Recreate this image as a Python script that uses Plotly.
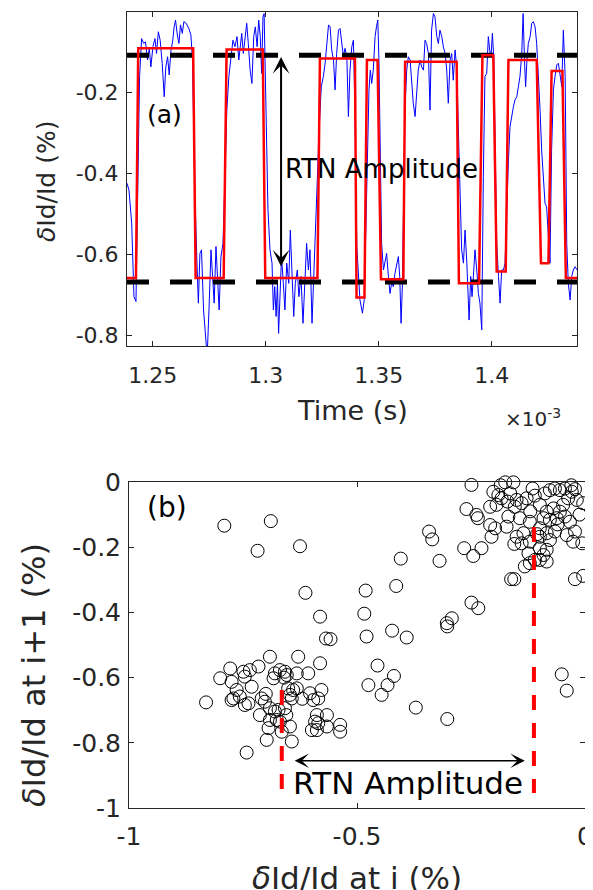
import plotly.graph_objects as go

# ---------------- panel (a): time trace ----------------
t_seg1 = [1.2386,1.2395,1.2407,1.2417,1.2426,1.2433,1.2442,1.2451,1.2460,1.2468,1.2477,1.2485,1.2492,1.2501,1.2510,1.2517,1.2525,1.2533,1.2542,1.2551,1.2558,1.2566,1.2573,1.2581,1.2588,1.2595,1.2601,1.2609,1.2616,1.2623,1.2631,1.2638,1.2648,1.2660,1.2669,1.2676,1.2687,1.2696,1.2702,1.2709,1.2716,1.2725,1.2734,1.2741,1.2749,1.2758,1.2765,1.2772,1.2780,1.2787,1.2794,1.2802,1.2811,1.2820,1.2828,1.2837,1.2846,1.2855,1.2864,1.2873,1.2881]
y_seg1 = [-0.424,-0.441,-0.523,-0.705,-0.717,-0.490,-0.160,-0.066,-0.078,-0.074,-0.119,-0.090,-0.136,-0.086,-0.066,-0.103,-0.049,-0.070,-0.127,-0.210,-0.136,-0.111,-0.156,-0.094,-0.074,-0.037,-0.020,-0.057,-0.078,-0.032,-0.053,-0.024,-0.028,-0.041,-0.057,-0.119,-0.457,-0.622,-0.721,-0.598,-0.589,-0.738,-0.796,-0.853,-0.738,-0.589,-0.655,-0.721,-0.581,-0.647,-0.738,-0.606,-0.573,-0.408,-0.243,-0.160,-0.119,-0.070,-0.086,-0.061,-0.119]
t_seg2 = [1.2894,1.2901,1.2908,1.2916,1.2923,1.2931,1.2939,1.2947,1.2954,1.2962,1.2969,1.2976,1.2982,1.2988,1.2993,1.3001,1.3010,1.3019,1.3028,1.3034,1.3040,1.3046,1.3052,1.3057,1.3063,1.3070,1.3078,1.3085,1.3093,1.3102,1.3109,1.3116,1.3124,1.3131,1.3140,1.3147,1.3156,1.3165,1.3174,1.3181,1.3189,1.3196,1.3205,1.3212,1.3220,1.3229,1.3237,1.3246,1.3255,1.3263,1.3270,1.3278,1.3285,1.3292,1.3300,1.3307,1.3314,1.3322,1.3329,1.3337,1.3344,1.3351,1.3359,1.3366,1.3373,1.3381,1.3388,1.3395]
y_seg2 = [-0.053,-0.103,-0.070,-0.028,-0.078,-0.144,-0.177,-0.061,-0.037,-0.086,-0.020,-0.061,-0.152,-0.012,-0.004,-0.243,-0.490,-0.589,-0.622,-0.738,-0.680,-0.754,-0.672,-0.796,-0.705,-0.606,-0.672,-0.738,-0.622,-0.672,-0.540,-0.655,-0.754,-0.672,-0.639,-0.705,-0.655,-0.771,-0.672,-0.573,-0.639,-0.589,-0.771,-0.655,-0.532,-0.408,-0.284,-0.185,-0.160,-0.127,-0.078,-0.032,-0.037,-0.094,-0.119,-0.193,-0.103,-0.045,-0.041,-0.086,-0.111,-0.090,-0.111,-0.259,-0.144,-0.086,-0.070,-0.243]
t_seg3 = [1.3403,1.3417,1.3428,1.3436,1.3444,1.3451,1.3457,1.3463,1.3469,1.3476,1.3484,1.3490,1.3496,1.3501,1.3507,1.3513,1.3521,1.3528,1.3535,1.3543,1.3550,1.3557,1.3565,1.3572,1.3580,1.3587,1.3593,1.3599,1.3605,1.3611,1.3616,1.3624,1.3631,1.3639,1.3646,1.3653,1.3661,1.3668,1.3675,1.3683,1.3690,1.3698,1.3705,1.3712,1.3720,1.3727,1.3734,1.3742,1.3749,1.3757,1.3764,1.3771,1.3779,1.3786,1.3794,1.3801,1.3808,1.3816,1.3823,1.3830,1.3838,1.3845,1.3853,1.3860,1.3867,1.3875,1.3882,1.3890,1.3897]
y_seg3 = [-0.580,-0.713,-0.746,-0.713,-0.490,-0.284,-0.193,-0.144,-0.177,-0.144,-0.061,-0.037,-0.020,-0.119,-0.408,-0.573,-0.639,-0.614,-0.598,-0.655,-0.697,-0.672,-0.680,-0.647,-0.622,-0.606,-0.655,-0.771,-0.672,-0.490,-0.243,-0.144,-0.111,-0.119,-0.177,-0.226,-0.259,-0.193,-0.144,-0.119,-0.136,-0.144,-0.070,-0.078,-0.103,-0.243,-0.045,-0.004,-0.012,-0.061,-0.078,-0.045,-0.061,-0.086,-0.103,-0.144,-0.226,-0.119,-0.103,-0.169,-0.094,-0.136,-0.325,-0.449,-0.589,-0.622,-0.540,-0.622,-0.697]
t_seg4 = [1.3900,1.3907,1.3913,1.3919,1.3926,1.3934,1.3941,1.3948,1.3956,1.3963,1.3970,1.3978,1.3985,1.3991,1.3997,1.4003,1.4009,1.4015,1.4022,1.4030,1.4037,1.4044,1.4052,1.4059,1.4066,1.4074,1.4081,1.4089,1.4096,1.4103,1.4111,1.4118,1.4125,1.4133,1.4139,1.4145,1.4150,1.4156,1.4162,1.4170,1.4177,1.4184,1.4192,1.4199,1.4207,1.4214,1.4221,1.4229,1.4236,1.4243,1.4251,1.4258,1.4265,1.4273,1.4280,1.4288,1.4295,1.4302,1.4310,1.4317,1.4325,1.4332,1.4339,1.4347,1.4354,1.4361,1.4369,1.4378]
y_seg4 = [-0.763,-0.655,-0.705,-0.655,-0.589,-0.639,-0.697,-0.721,-0.787,-0.408,-0.160,-0.152,-0.061,-0.094,-0.111,-0.053,-0.111,-0.325,-0.573,-0.655,-0.721,-0.639,-0.639,-0.622,-0.490,-0.367,-0.284,-0.251,-0.235,-0.218,-0.210,-0.185,-0.160,-0.103,-0.004,-0.119,-0.185,-0.119,-0.078,-0.061,-0.028,-0.024,-0.037,-0.078,-0.160,-0.243,-0.342,-0.408,-0.474,-0.482,-0.565,-0.622,-0.342,-0.193,-0.160,-0.131,-0.127,-0.152,-0.185,-0.045,-0.160,-0.573,-0.672,-0.713,-0.655,-0.639,-0.631,-0.639]

# fitted two-level (RTN) step signal
step_t = [1.2386,1.2426,1.2436,1.2679,1.2690,1.2814,1.2827,1.2987,1.2998,1.3229,1.3240,1.3395,1.3402,1.3437,1.3448,1.3495,1.3510,1.3609,1.3617,1.3845,1.3855,1.3944,1.3959,1.4007,1.4022,1.4062,1.4074,1.4199,1.4218,1.4251,1.4265,1.4313,1.4328,1.4378]
step_y = [-0.659,-0.659,-0.090,-0.090,-0.659,-0.659,-0.093,-0.093,-0.659,-0.659,-0.115,-0.115,-0.707,-0.707,-0.119,-0.119,-0.662,-0.662,-0.123,-0.123,-0.672,-0.672,-0.107,-0.107,-0.643,-0.643,-0.119,-0.119,-0.622,-0.622,-0.146,-0.146,-0.659,-0.659]

level_high = -0.107
level_low = -0.669
t_range = [1.23863, 1.43774]
ya_range = [-0.8272, -0.0001]
xa_ticks = [1.25, 1.3, 1.35, 1.4]
xa_ticktext = ["1.25", "1.3", "1.35", "1.4"]
ya_ticks = [-0.8, -0.6, -0.4, -0.2]
ya_ticktext = ["-0.8", "-0.6", "-0.4", "-0.2"]

# ---------------- panel (b): lag plot ----------------
lag_x = [-0.791,-0.689,-0.718,-0.625,-0.613,-0.581,-0.568,-0.558,-0.481,-0.484,-0.479,-0.423,-0.391,-0.414,-0.404,-0.342,-0.335,-0.319,-0.303,-0.302,-0.292,-0.249,-0.234,-0.249,-0.260,-0.238,-0.235,-0.265,-0.245,-0.227,-0.162,-0.155,-0.022,-0.004,-0.006,
         -0.831,-0.742,-0.455,-0.475,-0.446,-0.433,-0.419,-0.371,-0.302,-0.051,-0.040,
         -0.175,-0.157,-0.011,-0.201,-0.190,-0.183,-0.164,-0.150,-0.139,-0.154,-0.128,-0.110,-0.099,-0.077,-0.066,-0.055,-0.044,-0.029,-0.022,-0.037,-0.018,-0.004,-0.208,-0.194,
         -0.208,-0.197,-0.205,-0.172,-0.168,-0.143,-0.121,-0.099,-0.084,-0.069,-0.055,-0.044,-0.062,-0.077,-0.091,-0.033,-0.022,-0.040,-0.066,-0.084,-0.099,-0.077,-0.135,-0.150,-0.121,-0.139,-0.155,
         -0.099,-0.084,-0.124,-0.091,-0.099,-0.110,-0.084,-0.121,-0.132,-0.026,-0.115,-0.088,-0.170,-0.120,-0.048,-0.012,-0.030,-0.185,-0.060,-0.105,
         -0.691,-0.629,-0.581,-0.800,-0.778,-0.749,-0.735,-0.716,-0.775,-0.746,-0.680,-0.669,-0.658,-0.654,-0.632,-0.607,-0.683,-0.764,-0.757,-0.771,-0.775,-0.731,-0.746,-0.738,-0.709,-0.702,-0.713,-0.691,-0.680,-0.672,
         -0.658,-0.647,-0.640,-0.632,-0.651,-0.643,-0.603,-0.596,-0.585,-0.578,-0.691,-0.676,-0.669,-0.694,-0.665,-0.647,-0.698,-0.643,-0.588,-0.592,-0.585,-0.599,-0.588,-0.566,-0.566,-0.537,-0.537,-0.660,-0.620,-0.700,-0.655]
lag_y = [-0.134,-0.120,-0.211,-0.197,-0.340,-0.413,-0.480,-0.482,-0.333,-0.404,-0.474,-0.456,-0.477,-0.319,-0.235,-0.152,-0.176,-0.242,-0.433,-0.443,-0.418,-0.370,-0.387,-0.009,-0.083,-0.101,-0.111,-0.203,-0.227,-0.203,-0.298,-0.298,-0.298,-0.288,-0.188,
         -0.676,-0.830,-0.563,-0.623,-0.653,-0.623,-0.595,-0.692,-0.727,-0.590,-0.640,
         -0.001,-0.001,0.001,-0.030,-0.040,-0.050,-0.035,-0.055,-0.065,-0.076,-0.050,-0.042,-0.070,-0.025,-0.020,-0.025,-0.020,-0.030,-0.022,-0.050,-0.055,-0.065,-0.076,-0.070,
         -0.132,-0.142,-0.168,-0.137,-0.106,-0.111,-0.122,-0.142,-0.091,-0.081,-0.091,-0.106,-0.111,-0.116,-0.111,-0.122,-0.152,-0.163,-0.152,-0.157,-0.168,-0.178,-0.157,-0.168,-0.183,-0.188,-0.190,
         -0.203,-0.208,-0.219,-0.224,-0.239,-0.239,-0.244,-0.249,-0.259,-0.183,-0.020,-0.035,-0.060,-0.090,-0.070,-0.100,-0.010,-0.010,-0.130,-0.160,
         -0.536,-0.536,-0.556,-0.602,-0.572,-0.582,-0.577,-0.566,-0.613,-0.597,-0.587,-0.577,-0.582,-0.592,-0.587,-0.587,-0.602,-0.638,-0.658,-0.664,-0.669,-0.628,-0.684,-0.679,-0.664,-0.674,-0.715,-0.694,-0.704,-0.699,
         -0.694,-0.653,-0.638,-0.633,-0.633,-0.664,-0.648,-0.669,-0.664,-0.638,-0.730,-0.730,-0.735,-0.755,-0.766,-0.750,-0.791,-0.796,-0.715,-0.735,-0.740,-0.761,-0.761,-0.715,-0.750,-0.745,-0.766,-0.600,-0.665,-0.650,-0.715]

mark_hi_x = [-0.112, -0.112]
mark_hi_y = [-0.138, -0.954]
mark_lo_x = [-0.665, -0.665]
mark_lo_y = [-0.638, -0.951]
b_ticks = [-1, -0.5, 0]
b_ticktext = ["-1", "-0.5", "0"]
b_yticks = [-1, -0.8, -0.6, -0.4, -0.2, 0]
b_yticktext = ["-1", "-0.8", "-0.6", "-0.4", "-0.2", "0"]

t_all = t_seg1 + t_seg2 + t_seg3 + t_seg4
y_all = y_seg1 + y_seg2 + y_seg3 + y_seg4
assert len(t_all) == len(y_all)
assert len(lag_x) == len(lag_y), (len(lag_x), len(lag_y))

FONT = "DejaVu Sans"
AX = "#262626"
W, H = 593, 890
OFF = 8  # page body margin offset of the rendered figure


def px(x):
    return (x - OFF) / W


def py(y):
    return 1 - (y - OFF) / H


fig = go.Figure()
fig.add_trace(go.Scatter(x=t_all, y=y_all, mode="lines", line=dict(color="#0000ff", width=1),
                         xaxis="x", yaxis="y", showlegend=False, hoverinfo="skip"))
for lv in (level_high, level_low):
    fig.add_trace(go.Scatter(x=t_range, y=[lv, lv], mode="lines",
                             line=dict(color="black", width=5, dash="22px,21px"),
                             xaxis="x", yaxis="y", showlegend=False, hoverinfo="skip"))
fig.add_trace(go.Scatter(x=step_t, y=step_y, mode="lines", line=dict(color="#ff0000", width=2.5),
                         xaxis="x", yaxis="y", showlegend=False, hoverinfo="skip"))

fig.add_trace(go.Scatter(x=lag_x, y=lag_y, mode="markers",
                         marker=dict(symbol="circle-open", size=13, color="black", line=dict(width=1)),
                         xaxis="x2", yaxis="y2", showlegend=False, cliponaxis=False, hoverinfo="skip"))
for xs, ys in ((mark_hi_x, mark_hi_y), (mark_lo_x, mark_lo_y)):
    fig.add_trace(go.Scatter(x=xs, y=ys, mode="lines",
                             line=dict(color="#ff0000", width=4, dash="15px,13px"),
                             xaxis="x2", yaxis="y2", showlegend=False, hoverinfo="skip"))

axcommon = dict(showgrid=False, zeroline=False, showline=True, linecolor=AX, linewidth=1,
                mirror="ticks", ticks="inside", ticklen=5, tickcolor=AX, tickwidth=1,
                automargin=False)

fig.update_layout(
    template="none",
    width=W, height=H, autosize=False,
    margin=dict(l=0, r=0, t=0, b=0, pad=0),
    paper_bgcolor="white", plot_bgcolor="white",
    xaxis=dict(domain=[px(127), px(577)], range=t_range, anchor="y",
               tickvals=xa_ticks, ticktext=xa_ticktext, ticklabelstandoff=10,
               tickfont=dict(family=FONT, size=22, color=AX), **axcommon),
    yaxis=dict(domain=[py(346), py(12)], range=ya_range, anchor="x",
               tickvals=ya_ticks, ticktext=ya_ticktext, ticklabelstandoff=3,
               tickfont=dict(family=FONT, size=22, color=AX), **axcommon),
    xaxis2=dict(domain=[px(129), px(585)], range=[-1, 0], anchor="y2",
                tickvals=b_ticks, ticktext=b_ticktext, ticklabelstandoff=6,
                tickfont=dict(family=FONT, size=25, color=AX), **axcommon),
    yaxis2=dict(domain=[py(808), py(482)], range=[-1, 0], anchor="x2",
                tickvals=b_yticks, ticktext=b_yticktext, ticklabelstandoff=2,
                tickfont=dict(family=FONT, size=25, color=AX), **axcommon),
)

ann = []
# panel (a) texts
ann.append(dict(text="Time (s)", x=px(352), y=py(410), xref="paper", yref="paper",
                xanchor="center", yanchor="middle",
                showarrow=False, font=dict(family=FONT, size=27, color=AX)))
ann.append(dict(text="×10<sup>-3</sup>", x=px(503), y=py(418), xref="paper", yref="paper",
                xanchor="left", yanchor="middle", showarrow=False,
                font=dict(family=FONT, size=20, color=AX)))
ann.append(dict(text="<i>δ</i>Id/Id (%)", x=px(46), y=py(182), xref="paper", yref="paper",
                xanchor="center", yanchor="middle",
                textangle=-90, showarrow=False, font=dict(family=FONT, size=25, color=AX)))
ann.append(dict(text="(a)", x=1.2550, y=-0.255, xref="x", yref="y", showarrow=False,
                font=dict(family=FONT, size=25, color="black")))
ann.append(dict(text="RTN Amplitude", x=1.3075, y=-0.390, xref="x", yref="y", xanchor="left",
                showarrow=False, font=dict(family=FONT, size=26, color="black")))
ann.append(dict(text="", x=1.3068, y=-0.1116, ax=1.3068, ay=-0.634, xref="x", yref="y",
                axref="x", ayref="y", showarrow=True, arrowside="end+start",
                arrowhead=3, startarrowhead=3, arrowsize=1.4, startarrowsize=1.4,
                arrowwidth=2, arrowcolor="black", standoff=0, startstandoff=0))
# panel (b) texts
ann.append(dict(text="<i>δ</i>Id/Id at i (%)", x=px(357), y=py(858), xref="paper", yref="paper",
                xanchor="center", yanchor="top", showarrow=False,
                font=dict(family=FONT, size=31, color=AX)))
ann.append(dict(text="<i>δ</i>Id/Id at i+1 (%)", x=px(34), y=py(675), xref="paper", yref="paper",
                xanchor="center", yanchor="middle",
                textangle=-90, showarrow=False, font=dict(family=FONT, size=32, color=AX)))
ann.append(dict(text="(b)", x=-0.917, y=-0.077, xref="x2", yref="y2", showarrow=False,
                font=dict(family=FONT, size=28, color="black")))
ann.append(dict(text="RTN Amplitude", x=-0.388, y=-0.923, xref="x2", yref="y2",
                showarrow=False, font=dict(family=FONT, size=31, color="black")))
ann.append(dict(text="", x=-0.132, y=-0.855, ax=-0.640, ay=-0.855, xref="x2", yref="y2",
                axref="x2", ayref="y2", showarrow=True, arrowside="end+start",
                arrowhead=3, startarrowhead=3, arrowsize=1.6, startarrowsize=1.6,
                arrowwidth=1.5, arrowcolor="black", standoff=0, startstandoff=0))
fig.update_layout(annotations=ann)

fig.write_html("out.html")
